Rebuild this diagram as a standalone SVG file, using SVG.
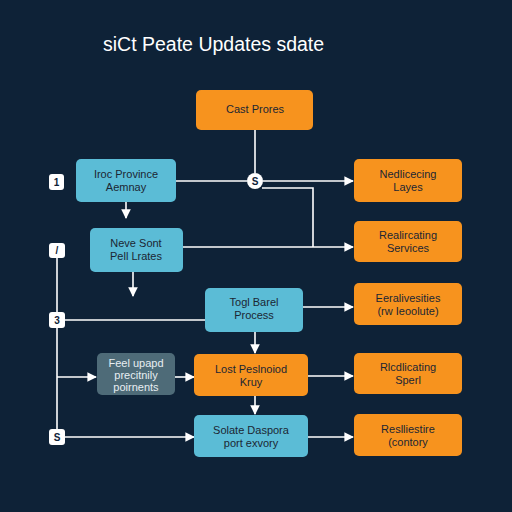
<svg xmlns="http://www.w3.org/2000/svg" width="512" height="512" viewBox="0 0 512 512">
<defs>
<marker id="ah" viewBox="0 0 10 10" refX="9" refY="5" markerWidth="6" markerHeight="6" orient="auto"><path d="M0,0 L10,5 L0,10 z" fill="#ffffff"/></marker>
<style>
.bg{fill:#0e2237}
.t{fill:#5bbcd6}
.o{fill:#f7931e}
.g{fill:#4e6b78}
.lbl{font-family:"Liberation Sans",Arial,sans-serif;font-size:11px;fill:#1b2633;text-anchor:middle}
.lw{font-family:"Liberation Sans",Arial,sans-serif;font-size:11px;fill:#e8eef2;text-anchor:middle}
.c{fill:none;stroke:#ffffff;stroke-width:1.6}
.a{marker-end:url(#ah)}
.badge{fill:#ffffff}
.bt{font-family:"Liberation Sans",Arial,sans-serif;font-size:10px;fill:#0e2237;text-anchor:middle;font-weight:bold}
</style>
</defs>
<rect class="bg" x="0" y="0" width="512" height="512"/>
<text x="103" y="51" font-family="Liberation Sans,Arial,sans-serif" font-size="19.5" fill="#ffffff">siCt Peate Updates sdate</text>

<g id="connectors">
<path class="c" d="M255,130 V173"/>
<path class="c" d="M176,181 H247"/>
<path class="c a" d="M263,181 H353"/>
<path class="c" d="M262,188 H313 V247"/>
<path class="c a" d="M183,247 H353"/>
<path class="c a" d="M126,202 V218"/>
<path class="c a" d="M133,272 V296"/>
<path class="c" d="M57,257 V430"/>
<path class="c" d="M65,320 H205"/>
<path class="c a" d="M303,307 H353"/>
<path class="c a" d="M255,332 V353"/>
<path class="c a" d="M57,377 H96"/>
<path class="c a" d="M175,377 H194"/>
<path class="c a" d="M308,376 H353"/>
<path class="c a" d="M255,396 V414"/>
<path class="c a" d="M65,437 H194"/>
<path class="c a" d="M308,437 H353"/>
</g>

<g id="n-cast"><rect class="o" x="196" y="90" width="117" height="40" rx="5"/><text class="lbl" x="255" y="113">Cast Prores</text></g>
<g id="n-s1"><circle cx="255" cy="181" r="8" fill="#ffffff"/><text class="bt" x="255" y="185">S</text></g>
<g id="n-iroc"><rect class="t" x="76" y="159" width="100" height="43" rx="5"/><text class="lbl" x="126" y="178">Iroc Province</text><text class="lbl" x="126" y="191">Aemnay</text></g>
<g id="n-nedl"><rect class="o" x="354" y="159" width="108" height="43" rx="5"/><text class="lbl" x="408" y="178">Nedlicecing</text><text class="lbl" x="408" y="191">Layes</text></g>
<g id="n-neve"><rect class="t" x="90" y="228" width="93" height="44" rx="5"/><text class="lbl" x="136" y="247">Neve Sont</text><text class="lbl" x="136" y="260">Pell Lrates</text></g>
<g id="n-real"><rect class="o" x="354" y="221" width="108" height="41" rx="5"/><text class="lbl" x="408" y="239">Realircating</text><text class="lbl" x="408" y="252">Services</text></g>
<g id="n-togl"><rect class="t" x="205" y="288" width="98" height="44" rx="5"/><text class="lbl" x="254" y="306">Togl Barel</text><text class="lbl" x="254" y="319">Process</text></g>
<g id="n-eera"><rect class="o" x="354" y="283" width="108" height="42" rx="5"/><text class="lbl" x="408" y="302">Eeralivesities</text><text class="lbl" x="408" y="315">(rw Ieoolute)</text></g>
<g id="n-feel"><rect class="g" x="97" y="353" width="78" height="42" rx="5"/><text class="lw" x="136" y="367">Feel upapd</text><text class="lw" x="136" y="379">precitnily</text><text class="lw" x="136" y="391">poirnents</text></g>
<g id="n-lost"><rect class="o" x="194" y="354" width="114" height="42" rx="5"/><text class="lbl" x="251" y="373">Lost Peslnoiod</text><text class="lbl" x="251" y="386">Kruy</text></g>
<g id="n-rlcd"><rect class="o" x="354" y="353" width="108" height="41" rx="5"/><text class="lbl" x="408" y="371">Rlcdlicating</text><text class="lbl" x="408" y="384">Sperl</text></g>
<g id="n-sola"><rect class="t" x="194" y="415" width="114" height="42" rx="5"/><text class="lbl" x="251" y="434">Solate Daspora</text><text class="lbl" x="251" y="447">port exvory</text></g>
<g id="n-resl"><rect class="o" x="354" y="414" width="108" height="42" rx="5"/><text class="lbl" x="408" y="433">Reslliestire</text><text class="lbl" x="408" y="446">(contory</text></g>

<g id="b1"><rect class="badge" x="49" y="174" width="15" height="16" rx="3"/><text class="bt" x="56.5" y="186">1</text></g>
<g id="b2"><rect class="badge" x="49" y="243" width="16" height="15" rx="3"/><text class="bt" x="57" y="254">/</text></g>
<g id="b3"><rect class="badge" x="49" y="312" width="16" height="16" rx="3"/><text class="bt" x="57" y="324">3</text></g>
<g id="b4"><rect class="badge" x="49" y="429" width="16" height="16" rx="3"/><text class="bt" x="57" y="441">S</text></g>
</svg>
